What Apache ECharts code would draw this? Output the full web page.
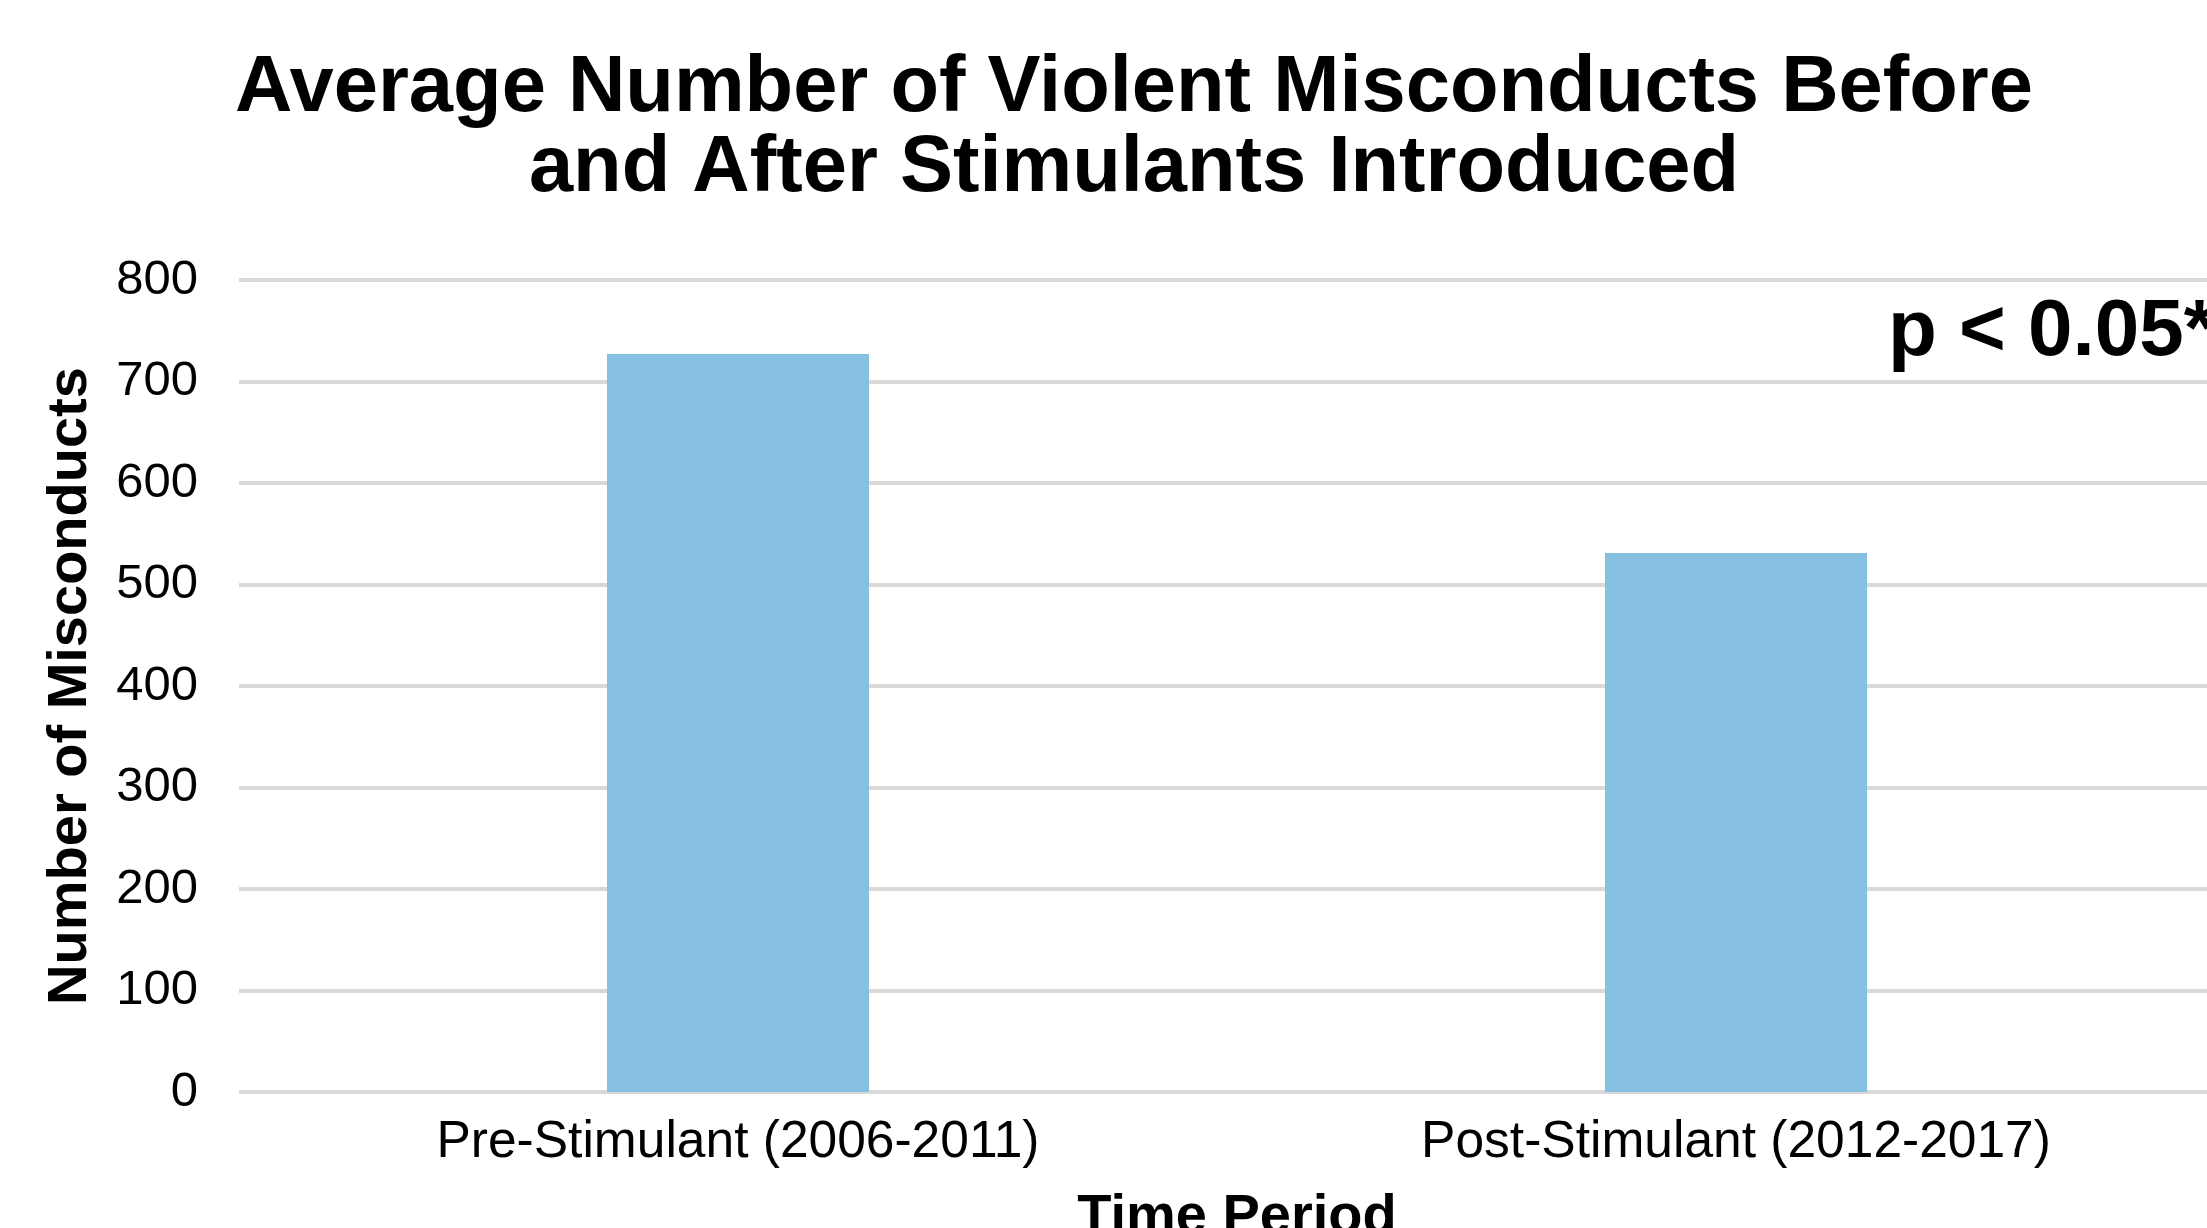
<!DOCTYPE html>
<html>
<head>
<meta charset="utf-8">
<script src="https://cdn.jsdelivr.net/npm/echarts@6/dist/echarts.min.js"></script>
<style>html,body{margin:0;padding:0;background:#fff;}#c{width:2207px;height:1228px;}</style>
</head>
<body>
<div id="c"></div>
<script>
const categories = ['Pre-Stimulant (2006-2011)', 'Post-Stimulant (2012-2017)'];
const misconducts = [727, 531];
const yTicks = [0, 100, 200, 300, 400, 500, 600, 700, 800];
const titleText = 'Average Number of Violent Misconducts Before\nand After Stimulants Introduced';
const annotation = 'p < 0.05*';

const FONT = '"Liberation Sans", Arial, Helvetica, sans-serif';
const chart = echarts.init(document.getElementById('c'), null, {renderer: 'canvas'});
chart.setOption({
  backgroundColor: '#ffffff',
  animation: false,
  title: [
    {
      text: titleText,
      left: 1129, top: 44, textAlign: 'center',
      textStyle: {fontFamily: FONT, fontSize: 79.5, fontWeight: 'bold', color: '#000', lineHeight: 80}
    },
    {
      text: annotation,
      left: 1883, top: 288,
      textStyle: {fontFamily: FONT, fontSize: 80, fontWeight: 'bold', color: '#000'}
    }
  ],
  grid: {left: 239, right: -28, top: 280, bottom: 136, containLabel: false, outerBoundsMode: 'none'},
  xAxis: {
    type: 'category',
    data: categories,
    name: 'Time Period',
    nameLocation: 'middle',
    nameGap: 98,
    nameTextStyle: {fontFamily: FONT, fontSize: 56, fontWeight: 'bold', color: '#000'},
    axisLine: {show: false},
    axisTick: {show: false},
    axisLabel: {fontFamily: FONT, fontSize: 51.5, color: '#000', margin: 25, interval: 0}
  },
  yAxis: {
    type: 'value',
    min: yTicks[0], max: yTicks[yTicks.length - 1], interval: yTicks[1] - yTicks[0],
    name: 'Number of Misconducts',
    nameLocation: 'middle',
    nameGap: 140,
    nameRotate: 90,
    nameTextStyle: {fontFamily: FONT, fontSize: 56, fontWeight: 'bold', color: '#000'},
    axisLine: {show: false},
    axisTick: {show: false},
    axisLabel: {fontFamily: FONT, fontSize: 49, color: '#000', margin: 41},
    splitLine: {lineStyle: {color: '#d9d9d9', width: 4}}
  },
  series: [{
    type: 'bar',
    data: misconducts,
    barWidth: 262,
    itemStyle: {color: '#85c0e0'}
  }]
});
</script>
</body>
</html>
